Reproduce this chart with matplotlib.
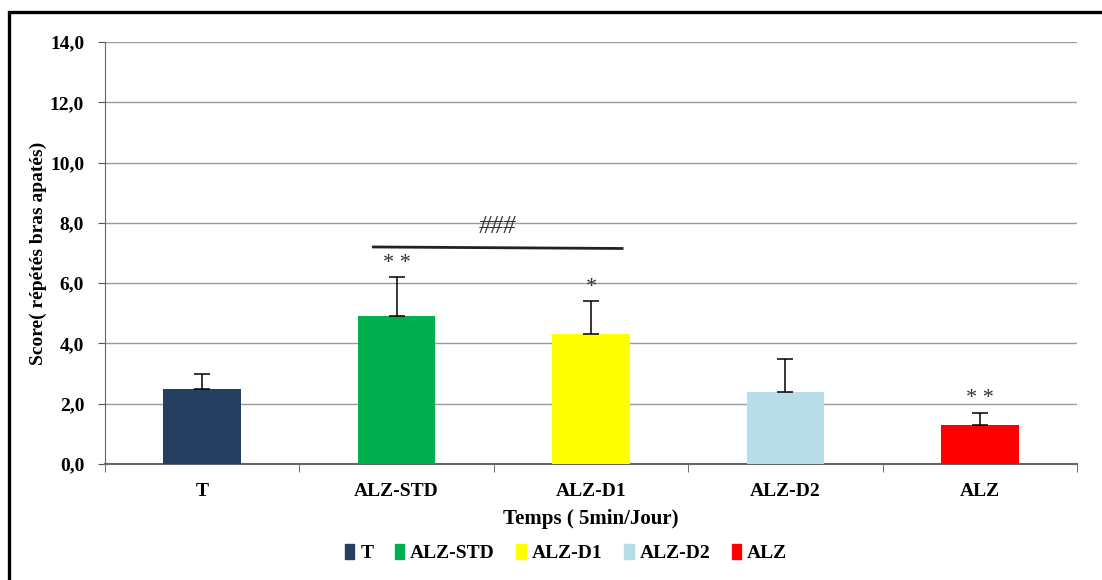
import matplotlib.pyplot as plt
import numpy as np
from matplotlib.patches import Rectangle

plt.rcParams['font.family'] = ['Liberation Serif', 'DejaVu Serif']

groups = ['T', 'ALZ-STD', 'ALZ-D1', 'ALZ-D2', 'ALZ']
means = [2.5, 4.9, 4.3, 2.4, 1.3]
errors = [0.5, 1.3, 1.1, 1.1, 0.4]
colors = ['#243F60', '#00B050', '#FFFF00', '#B7DEE8', '#FF0000']
stars = ['', '* *', '*', '', '* *']
yticks = [0, 2, 4, 6, 8, 10, 12, 14]

fig = plt.figure(figsize=(11.02, 5.8), dpi=100)
ax = fig.add_axes([105 / 1102, 1 - 464 / 580, 972 / 1102, 422 / 580])

# outer chart frame (only the left and top edges fall inside the image)
fig.patches.append(Rectangle((9 / 1102, -0.05), 1.2, 1 - 12 / 580 + 0.05,
                             transform=fig.transFigure, fill=False,
                             edgecolor='black', lw=2.4))

x = np.arange(len(groups))
ax.bar(x, means, width=0.4, color=colors, zorder=3)
ax.errorbar(x, means, yerr=[np.zeros(len(errors)), errors], fmt='none',
            ecolor='black', elinewidth=1.1, capsize=6, capthick=1.1, zorder=4)

for i, s in enumerate(stars):
    if s:
        ax.text(x[i], means[i] + errors[i] + 0.15, s, ha='center', va='bottom',
                fontsize=16, color='#333333')

# significance bar between ALZ-STD and ALZ-D1
ax.plot([0.88, 2.16], [7.2, 7.15], color='#222222', lw=2, zorder=4)
ax.text(1.52, 7.5, '###', ha='center', va='bottom', fontsize=18,
        style='italic', color='#333333')

ax.set_xlim(-0.5, len(groups) - 0.5)
ax.set_ylim(0, 14)
ax.set_yticks(yticks)
ax.set_yticklabels([f'{v:.1f}'.replace('.', ',') for v in yticks],
                   fontsize=14, fontweight='bold')
ax.set_xticks(x)
ax.set_xticklabels(groups, fontsize=14, fontweight='bold')
ax.set_xticks(np.arange(-0.5, len(groups)), minor=True)
ax.tick_params(axis='x', which='major', length=0, pad=14)
ax.tick_params(axis='x', which='minor', length=6, color='#555555')
ax.tick_params(axis='y', length=5, color='#555555', pad=10)
ax.grid(axis='y', color='#9a9a9a', lw=1, zorder=0)

for side in ['top', 'right']:
    ax.spines[side].set_visible(False)
ax.spines['left'].set_color('#666666')
ax.spines['bottom'].set_color('#666666')
ax.spines['bottom'].set_linewidth(1.5)

ax.set_xlabel('Temps ( 5min/Jour)', fontsize=15, fontweight='bold', labelpad=6)
ax.set_ylabel('Score( répétés bras apatés)', fontsize=14, fontweight='bold', labelpad=2)

handles = [Rectangle((0, 0), 1, 1, color=c) for c in colors]
fig.legend(handles, groups, loc='center', bbox_to_anchor=(566 / 1102, 1 - 553 / 580),
           ncol=5, frameon=False, handlelength=0.5, handleheight=0.8,
           handletextpad=0.3, columnspacing=1.1,
           prop={'weight': 'bold', 'size': 14})

fig.savefig('out.png', dpi=100)
